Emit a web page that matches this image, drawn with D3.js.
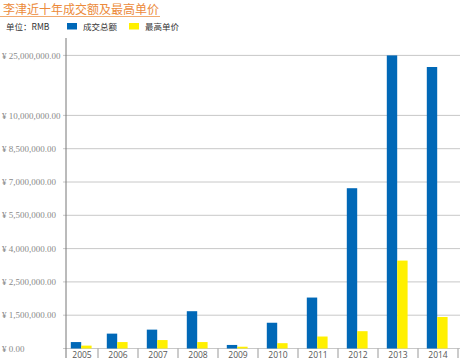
<!DOCTYPE html>
<html>
<head>
<meta charset="utf-8">
<script src="https://cdn.jsdelivr.net/npm/d3@7/dist/d3.min.js"></script>
<style>
html,body{margin:0;padding:0;background:#fff;}
svg{display:block;}
</style>
</head>
<body>
<svg id="chart" width="463" height="360"></svg>
<script>
const years = ["2005","2006","2007","2008","2009","2010","2011","2012","2013","2014"];
const totalTurnover = [290000, 670000, 850000, 1620000, 160000, 1160000, 2030000, 6720000, 25000000, 22100000];
const topPrice = [130000, 290000, 380000, 290000, 80000, 240000, 540000, 780000, 3460000, 1420000];
const yTicks = [0, 1500000, 2500000, 4000000, 5500000, 7000000, 8500000, 10000000, 25000000];
const seriesNames = ["成交总额", "最高单价"];
const seriesColors = ["#0068b7", "#fff000"];

const svg = d3.select("#chart");
const axisX = 66, plotRight = 460, baseY = 348.5, step = 33.3, topGap = 60, axisTop = 38, axisBottom = 358;

// piecewise vertical scale following the chart's uneven tick spacing
const yRange = yTicks.map((d, i) => i < yTicks.length - 1 ? baseY - i * step : baseY - (i - 1) * step - topGap);
const y = d3.scaleLinear().domain(yTicks).range(yRange);

const x = d3.scaleBand().domain(years).range([58, 458]);

// title
svg.append("text").attr("x", 3).attr("y", 13.5)
  .attr("font-family", "'Noto Sans CJK SC', sans-serif").attr("font-size", 12)
  .attr("fill", "#ec8a3a").text("李津近十年成交额及最高单价");
svg.append("line").attr("x1", 0).attr("x2", 160).attr("y1", 16.5).attr("y2", 16.5)
  .attr("stroke", "#f0aa70").attr("stroke-width", 1);

// legend
svg.append("text").attr("x", 6).attr("y", 30)
  .attr("font-family", "'Noto Sans CJK SC', sans-serif").attr("font-size", 8.5)
  .attr("fill", "#333").text("单位：RMB");
const legendX = [67, 129];
seriesNames.forEach((n, i) => {
  svg.append("rect").attr("x", legendX[i]).attr("y", 23).attr("width", 10).attr("height", 6.5).attr("fill", seriesColors[i]);
  svg.append("text").attr("x", legendX[i] + 16).attr("y", 30)
    .attr("font-family", "'Noto Sans CJK SC', sans-serif").attr("font-size", 8.5)
    .attr("fill", "#333").text(n);
});

// gridlines + y labels
const fmt = d3.format(",.2f");
const yg = svg.append("g");
yg.selectAll("line").data(yTicks).join("line")
  .attr("x1", 63).attr("x2", plotRight)
  .attr("y1", d => y(d)).attr("y2", d => y(d))
  .attr("stroke", "#c8c8c8").attr("stroke-width", 1);
yg.selectAll("text").data(yTicks).join("text")
  .attr("x", 2).attr("y", d => y(d)).attr("dy", "0.35em")
  .attr("font-family", "'Liberation Serif', 'Times New Roman', serif").attr("font-size", 9)
  .attr("fill", "#8a8a8a").text(d => "¥ " + fmt(d));

// visible band helpers (first band is clipped by the y axis)
const bandStart = d => Math.max(x(d), axisX);
const bandEnd = d => x(d) + x.bandwidth();
const bandMid = d => (bandStart(d) + bandEnd(d)) / 2 - 0.8;
const barW = 10.4;

// bars
const bars = svg.append("g");
bars.selectAll("rect.t").data(years).join("rect").attr("class", "t")
  .attr("x", (d) => bandMid(d) - barW)
  .attr("width", barW)
  .attr("y", (d, i) => y(totalTurnover[i]))
  .attr("height", (d, i) => y(0) - y(totalTurnover[i]))
  .attr("fill", seriesColors[0]);
bars.selectAll("rect.p").data(years).join("rect").attr("class", "p")
  .attr("x", (d) => bandMid(d))
  .attr("width", barW)
  .attr("y", (d, i) => y(topPrice[i]))
  .attr("height", (d, i) => y(0) - y(topPrice[i]))
  .attr("fill", seriesColors[1]);

// x axis tick separators
svg.append("g").selectAll("line").data(years).join("line")
  .attr("x1", d => bandEnd(d)).attr("x2", d => bandEnd(d))
  .attr("y1", baseY).attr("y2", axisBottom)
  .attr("stroke", "#999").attr("stroke-width", 1);
// x labels
svg.append("g").selectAll("text").data(years).join("text")
  .attr("x", d => (bandStart(d) + bandEnd(d)) / 2).attr("y", 358)
  .attr("text-anchor", "middle")
  .attr("font-family", "'Open Sans', 'DejaVu Sans', sans-serif").attr("font-size", 8.5)
  .attr("fill", "#555").text(d => d);

// y axis line
svg.append("line").attr("x1", axisX).attr("x2", axisX).attr("y1", axisTop).attr("y2", axisBottom)
  .attr("stroke", "#777").attr("stroke-width", 1);
</script>
</body>
</html>
